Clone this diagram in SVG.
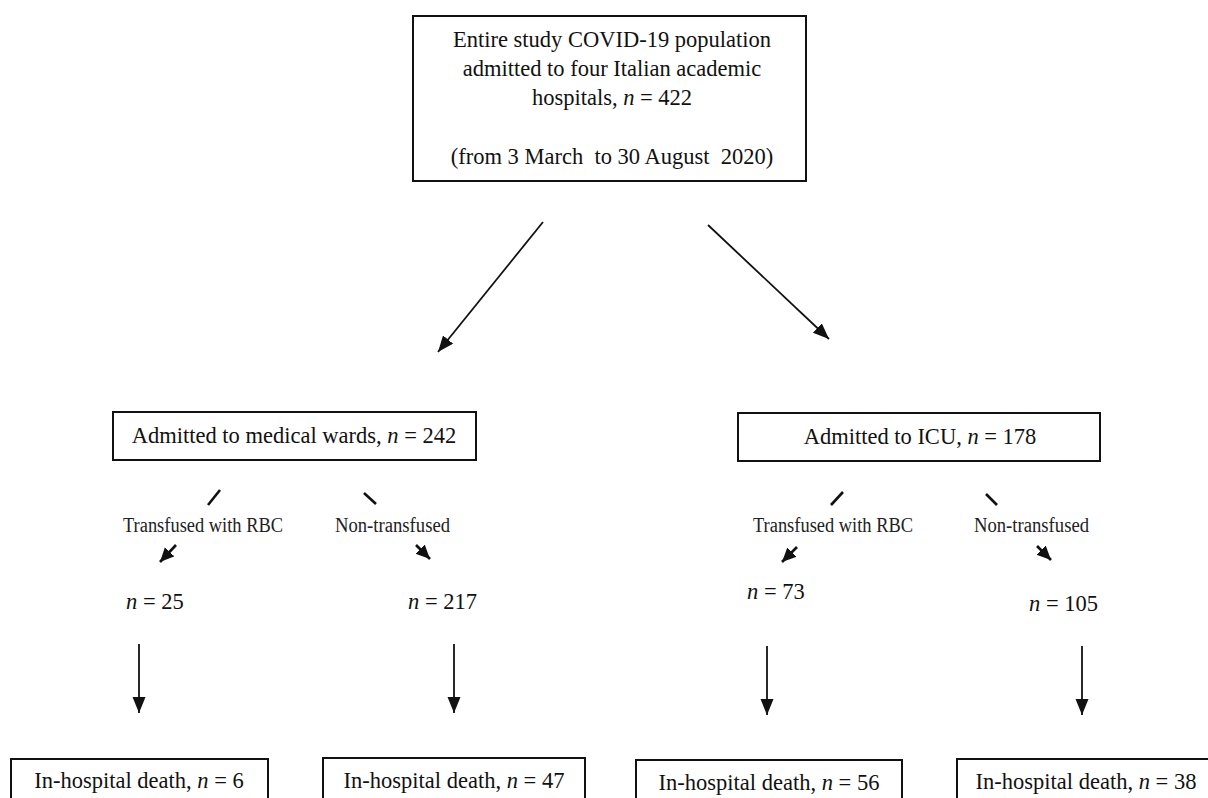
<svg xmlns="http://www.w3.org/2000/svg" width="1208" height="798" viewBox="0 0 1208 798">
<defs>
<style>
.box{fill:#fff;stroke:#111;stroke-width:2}
.t{font-family:"Liberation Serif","Times New Roman",serif;font-size:22.5px;fill:#111}
.s{font-family:"Liberation Serif","Times New Roman",serif;font-size:20px;fill:#222}
.c{stroke:#111;stroke-width:1.8;fill:none}
.k{stroke:#111;stroke-width:2.6;fill:none}
</style>
<marker id="ah" markerUnits="userSpaceOnUse" markerWidth="18" markerHeight="14" refX="16" refY="6.5" orient="auto">
<path d="M0,0 L16,6.5 L0,13 z" fill="#111"/>
</marker>
<marker id="sh" markerUnits="userSpaceOnUse" markerWidth="16" markerHeight="14" refX="14" refY="6.5" orient="auto">
<path d="M0,0 L14,6.5 L0,13 z" fill="#111"/>
</marker>
</defs>
<rect width="1208" height="798" fill="#fff"/>

<g id="top">
<rect class="box" x="413" y="16" width="393" height="165"/>
<text class="t" x="612" y="47" text-anchor="middle" font-size="23">Entire study COVID-19 population</text>
<text class="t" x="612" y="76" text-anchor="middle" font-size="23">admitted to four Italian academic</text>
<text class="t" x="612" y="105" text-anchor="middle" font-size="23">hospitals, <tspan font-style="italic">n</tspan> = 422</text>
<text class="t" x="612" y="164" text-anchor="middle" font-size="23" xml:space="preserve">(from 3 March  to 30 August  2020)</text>
</g>

<g id="wards">
<rect class="box" x="113" y="412" width="363" height="48"/>
<text class="t" x="294" y="443" text-anchor="middle">Admitted to medical wards, <tspan font-style="italic">n</tspan> = 242</text>
</g>

<g id="icu">
<rect class="box" x="738" y="413" width="362" height="48"/>
<text class="t" x="920" y="444" text-anchor="middle">Admitted to ICU, <tspan font-style="italic">n</tspan> = 178</text>
</g>

<g id="labels">
<text class="s" x="123" y="532" textLength="160" lengthAdjust="spacingAndGlyphs">Transfused with RBC</text>
<text class="s" x="335" y="532" textLength="115" lengthAdjust="spacingAndGlyphs">Non-transfused</text>
<text class="s" x="753" y="532" textLength="160" lengthAdjust="spacingAndGlyphs">Transfused with RBC</text>
<text class="s" x="974" y="532" textLength="115" lengthAdjust="spacingAndGlyphs">Non-transfused</text>
</g>

<g id="n25"><text class="t" x="126" y="609"><tspan font-style="italic">n</tspan> = 25</text></g>
<g id="n217"><text class="t" x="408" y="609"><tspan font-style="italic">n</tspan> = 217</text></g>
<g id="n73"><text class="t" x="747" y="599"><tspan font-style="italic">n</tspan> = 73</text></g>
<g id="n105"><text class="t" x="1029" y="611"><tspan font-style="italic">n</tspan> = 105</text></g>

<g id="death1">
<rect class="box" x="11" y="759" width="257" height="60"/>
<text class="t" x="139" y="788" text-anchor="middle">In-hospital death, <tspan font-style="italic">n</tspan> = 6</text>
</g>
<g id="death2">
<rect class="box" x="323" y="758" width="262" height="60"/>
<text class="t" x="454" y="788" text-anchor="middle">In-hospital death, <tspan font-style="italic">n</tspan> = 47</text>
</g>
<g id="death3">
<rect class="box" x="636" y="760" width="266" height="60"/>
<text class="t" x="769" y="790" text-anchor="middle">In-hospital death, <tspan font-style="italic">n</tspan> = 56</text>
</g>
<g id="death4">
<rect class="box" x="957" y="759" width="262" height="60"/>
<text class="t" x="1086" y="789" text-anchor="middle">In-hospital death, <tspan font-style="italic">n</tspan> = 38</text>
</g>

<g id="connectors">
<line class="c" x1="543" y1="222" x2="438" y2="352" marker-end="url(#ah)"/>
<line class="c" x1="708" y1="225" x2="829" y2="339" marker-end="url(#ah)"/>
<line class="k" x1="220" y1="490" x2="208" y2="505"/>
<line class="k" x1="364" y1="493" x2="376" y2="504"/>
<line class="k" x1="843" y1="492" x2="831" y2="505"/>
<line class="k" x1="986" y1="494" x2="997" y2="505"/>
<line class="k" x1="176" y1="545" x2="160" y2="562" marker-end="url(#sh)"/>
<line class="k" x1="416" y1="545" x2="430" y2="559" marker-end="url(#sh)"/>
<line class="k" x1="797" y1="547" x2="782" y2="562" marker-end="url(#sh)"/>
<line class="k" x1="1037" y1="546" x2="1051" y2="560" marker-end="url(#sh)"/>
<line class="c" x1="139" y1="644" x2="139" y2="713" marker-end="url(#ah)"/>
<line class="c" x1="454" y1="644" x2="454" y2="713" marker-end="url(#ah)"/>
<line class="c" x1="767" y1="646" x2="767" y2="715" marker-end="url(#ah)"/>
<line class="c" x1="1082" y1="646" x2="1082" y2="715" marker-end="url(#ah)"/>
</g>
</svg>
